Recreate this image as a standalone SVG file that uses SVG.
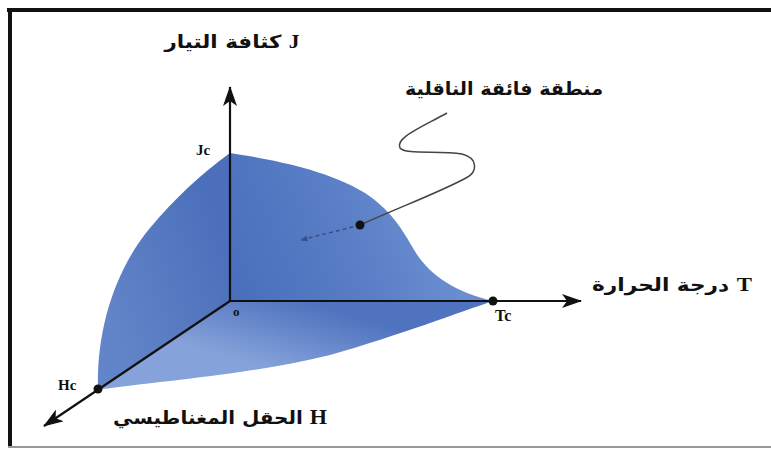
<svg xmlns="http://www.w3.org/2000/svg" width="771" height="449" viewBox="0 0 771 449">
<defs>
<style>
.lat{font-family:"Liberation Serif","Times New Roman",serif;font-weight:bold;fill:#111}
.ar{font-family:"DejaVu Sans","Noto Sans",sans-serif;font-weight:bold;fill:#111}
.axis{stroke:#111;stroke-width:2.2;fill:none}
</style>
<linearGradient id="gLeft" x1="230" y1="250" x2="100" y2="300" gradientUnits="userSpaceOnUse">
<stop offset="0" stop-color="#4b6fbb"/><stop offset="1" stop-color="#6284c8"/>
</linearGradient>
<linearGradient id="gRight" x1="240" y1="290" x2="430" y2="210" gradientUnits="userSpaceOnUse">
<stop offset="0" stop-color="#4a6fbc"/><stop offset="0.6" stop-color="#5a7fc7"/><stop offset="1" stop-color="#6a8ed0"/>
</linearGradient>
<linearGradient id="gBot" x1="300" y1="301" x2="280" y2="372" gradientUnits="userSpaceOnUse">
<stop offset="0" stop-color="#4f73be"/><stop offset="1" stop-color="#86a2da"/>
</linearGradient>
<marker id="ahBig" viewBox="0 0 20 14" refX="19" refY="7" markerWidth="20" markerHeight="14" markerUnits="userSpaceOnUse" orient="auto">
<path d="M0,0 L20,7 L0,14 L5,7 Z" fill="#111"/>
</marker>
<marker id="ahSm" viewBox="0 0 10 10" refX="9" refY="5" markerWidth="8" markerHeight="7" markerUnits="userSpaceOnUse" orient="auto">
<path d="M0,1 L10,5 L0,9 Z" fill="#3a4e80"/>
</marker>
</defs>
<rect width="771" height="449" fill="#fff"/>
<g id="frame">
<line x1="7" y1="10" x2="771" y2="10" stroke="#111" stroke-width="4"/>
<line x1="10" y1="8" x2="10" y2="446" stroke="#111" stroke-width="4"/>
<line x1="8" y1="447" x2="771" y2="447" stroke="#999" stroke-width="2"/>
</g>
<g id="surface">
<path d="M98,390 C96,330 115,270 150,228 C175,198 200,175 230,153 L230,301 Z" fill="url(#gLeft)"/>
<path d="M230,153 C262,158 325,168 365,193 C395,213 405,235 416,253 C430,275 455,292 493,301 L230,301 Z" fill="url(#gRight)"/>
<path d="M230,301 L493,301 C460,312 400,335 330,355 C250,375 150,382 98,390 Z" fill="url(#gBot)"/>
</g>
<g id="connectors">
<line class="axis" x1="230" y1="301" x2="230" y2="87" marker-end="url(#ahBig)"/>
<line class="axis" x1="230" y1="301" x2="581" y2="301" stroke-width="1.8" marker-end="url(#ahBig)"/>
<line class="axis" x1="230" y1="301" x2="44" y2="426" marker-end="url(#ahBig)"/>
<path d="M447,113 C420,128 395,138 400,148 C405,155 440,150 462,154 C478,158 478,172 466,178 C440,192 405,205 360,225" fill="none" stroke="#444" stroke-width="1.5"/>
<line x1="360" y1="225" x2="301" y2="240" stroke="#3a4e80" stroke-width="1.5" stroke-dasharray="4,3" marker-end="url(#ahSm)"/>
</g>
<g id="node-jc"><text class="lat" x="196" y="155" font-size="15">Jc</text></g>
<g id="node-tc"><circle cx="493" cy="301" r="4.5" fill="#111"/><text class="lat" x="495" y="321" font-size="16">Tc</text></g>
<g id="node-hc"><circle cx="98" cy="389" r="4.5" fill="#111"/><text class="lat" x="58" y="390" font-size="15">Hc</text></g>
<g id="node-o"><text class="lat" x="233" y="316" font-size="13" font-weight="normal" fill="#223">o</text></g>
<g id="node-sc"><circle cx="360" cy="225" r="4.5" fill="#111"/><text class="ar" x="504" y="95" font-size="18" text-anchor="middle" direction="rtl" textLength="198" lengthAdjust="spacingAndGlyphs">منطقة فائقة الناقلية</text></g>
<g id="label-j"><text class="ar" x="232" y="48" font-size="18" text-anchor="middle" direction="rtl" textLength="135" lengthAdjust="spacingAndGlyphs"><tspan class="lat" font-size="18">J</tspan> كثافة التيار</text></g>
<g id="label-t"><text class="ar" x="672" y="291" font-size="18" text-anchor="middle" direction="rtl" textLength="160" lengthAdjust="spacingAndGlyphs"><tspan class="lat" font-size="19">T</tspan> درجة الحرارة</text></g>
<g id="label-h"><text class="ar" x="220" y="424" font-size="18" text-anchor="middle" direction="rtl" textLength="214" lengthAdjust="spacingAndGlyphs"><tspan class="lat" font-size="20">H</tspan> الحقل المغناطيسي</text></g>
</svg>
